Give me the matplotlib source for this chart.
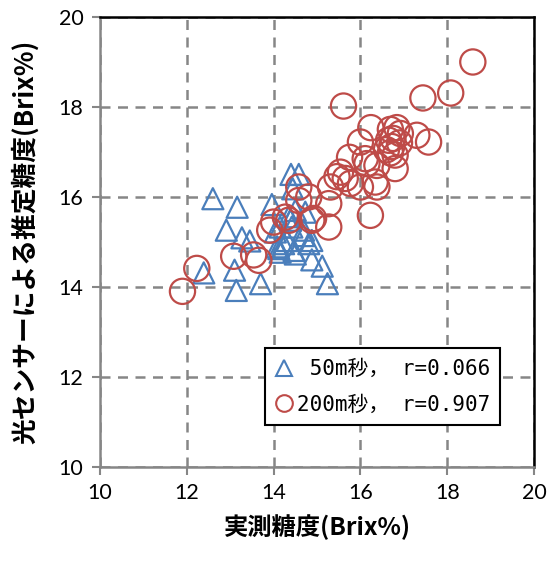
import matplotlib
matplotlib.use("Agg")
import matplotlib.pyplot as plt
from matplotlib.lines import Line2D

tri_x = [12.60, 13.16, 12.91, 13.27, 13.45, 13.10, 12.39, 13.14, 13.70, 13.96,
         14.40, 14.58, 14.44, 14.50, 14.73, 14.15, 14.35, 14.31, 14.12, 14.15,
         14.50, 14.69, 14.69, 14.88, 14.88, 15.12, 15.24, 14.08, 14.42, 14.39,
         14.04, 14.23, 14.81, 14.47]
tri_y = [15.96, 15.77, 15.26, 15.09, 15.02, 14.37, 14.31, 13.92, 14.07, 15.83,
         16.50, 16.50, 16.18, 15.70, 15.66, 15.33, 15.56, 15.03, 14.85, 14.77,
         14.73, 15.26, 15.14, 15.03, 14.60, 14.46, 14.07, 14.89, 15.33, 15.48,
         15.22, 14.96, 14.96, 14.81]

cir_x = [11.90, 12.23, 13.08, 13.54, 13.66, 13.91, 14.00, 14.27, 14.35, 14.58,
         14.58, 14.81, 14.92, 15.27, 15.27, 15.31, 16.23, 18.59, 18.08, 17.44,
         15.61, 16.24, 16.69, 16.84, 16.92, 17.30, 17.57, 16.65, 16.72, 16.80,
         16.69, 16.00, 15.75, 16.11, 16.15, 16.38, 16.80, 15.54, 15.65, 15.46,
         15.77, 16.00, 16.34, 16.38, 14.88, 16.75, 16.90, 16.60]
cir_y = [13.90, 14.41, 14.68, 14.71, 14.59, 15.26, 15.44, 15.55, 15.48, 15.92,
         16.22, 16.00, 15.52, 15.33, 15.85, 16.22, 15.59, 19.00, 18.31, 18.20,
         18.02, 17.54, 17.50, 17.54, 17.41, 17.37, 17.22, 17.26, 17.12, 16.93,
         16.98, 17.22, 16.88, 16.85, 16.74, 16.70, 16.63, 16.55, 16.41, 16.45,
         16.30, 16.22, 16.33, 16.22, 15.48, 17.30, 17.20, 17.05]

ticks = [10, 12, 14, 16, 18, 20]
label_tri = " 50m秒， r=0.066"
label_cir = "200m秒， r=0.907"
xlabel = "実測糖度(Brix%)"
ylabel = "光センサーによる推定糖度(Brix%)"

blue = "#4a7ebb"
red = "#be4b48"
gray = "#868686"

fig = plt.figure(figsize=(5.48, 5.61), dpi=100)
ax = fig.add_axes([0.1825, 0.168, 0.792, 0.8017])
ax.set_xlim(10, 20)
ax.set_ylim(10, 20)
ax.set_xticks(ticks)
ax.set_yticks(ticks)
ax.grid(True, color=gray, linestyle=(0, (4, 3)), linewidth=1.8)
ax.set_axisbelow(True)

ax.scatter(tri_x, tri_y, marker="^", s=230, facecolors="none",
           edgecolors=blue, linewidths=1.6, zorder=3)
ax.scatter(cir_x, cir_y, marker="o", s=330, facecolors="none",
           edgecolors=red, linewidths=1.6, zorder=4)

for side in ["left", "bottom"]:
    ax.spines[side].set_color(gray)
    ax.spines[side].set_linewidth(1.8)
for side in ["top", "right"]:
    ax.spines[side].set_color("black")
    ax.spines[side].set_linewidth(1.8)
ax.tick_params(axis="both", color=gray, width=1.5, length=6, direction="out",
               labelsize=15.5, pad=6, labelcolor="black",
               top=False, right=False)
for t in ax.get_xticklabels() + ax.get_yticklabels():
    t.set_fontfamily(["Lato", "DejaVu Sans"])

ax.set_xlabel(xlabel, fontsize=17.5, fontweight="bold",
              family=["Noto Sans CJK JP", "DejaVu Sans"], labelpad=8)
ax.set_ylabel(ylabel, fontsize=18.5, fontweight="bold",
              family=["Noto Sans CJK JP", "DejaVu Sans"], labelpad=14)

handles = [
    Line2D([], [], marker="^", linestyle="none", markersize=12,
           markerfacecolor="none", markeredgecolor=blue, markeredgewidth=1.5),
    Line2D([], [], marker="o", linestyle="none", markersize=12,
           markerfacecolor="none", markeredgecolor=red, markeredgewidth=1.5),
]
leg = ax.legend(handles, [label_tri, label_cir], loc="lower right",
                bbox_to_anchor=(0.922, 0.093), borderaxespad=0,
                frameon=True, fancybox=False,
                edgecolor="black", framealpha=1, handlelength=0.8,
                handletextpad=0.2, borderpad=0.5, labelspacing=0.75,
                prop={"family": ["DejaVu Sans Mono", "Noto Sans CJK JP"], "size": 15})
leg.get_frame().set_linewidth(1.5)
leg.set_zorder(10)

fig.savefig("out.png", dpi=100)
